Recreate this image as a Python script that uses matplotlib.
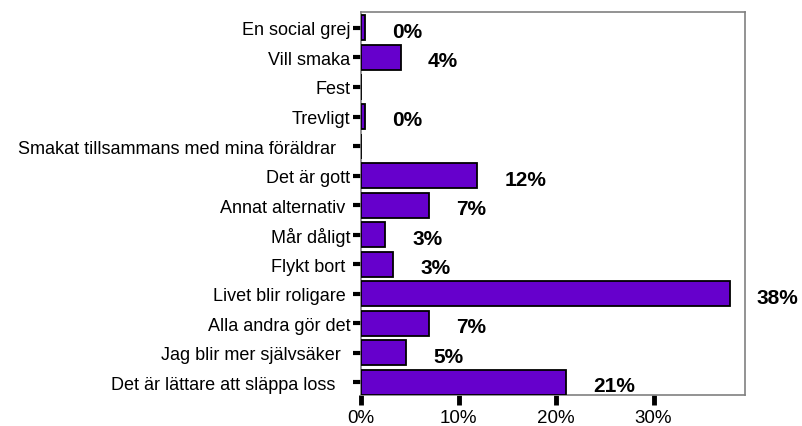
import matplotlib.pyplot as plt
import numpy as np

plt.rcParams['font.family'] = ['Liberation Sans', 'DejaVu Sans']

# categories top -> bottom, trailing spaces as in the original labels
categories = ['En social grej', 'Vill smaka', 'Fest', 'Trevligt',
              'Smakat tillsammans med mina föräldrar   ', 'Det är gott',
              'Annat alternativ ', 'Mår dåligt', 'Flykt bort ',
              'Livet blir roligare ', 'Alla andra gör det',
              'Jag blir mer självsäker  ', 'Det är lättare att släppa loss   ']
values = [0.4, 4.1, 0.0, 0.4, 0.0, 11.9, 7.0, 2.5, 3.3, 37.8, 7.0, 4.6, 21.0]
pct_labels = ['0%', '4%', '', '0%', '', '12%', '7%', '3%', '3%', '38%', '7%', '5%', '21%']
xticks = [0, 10, 20, 30]
xtick_labels = ['0%', '10%', '20%', '30%']

fig = plt.figure()
fig.set_size_inches(8.03, 4.27)
ax = fig.add_axes([0.4496, 0.0726, 0.928 - 0.4496, 0.9696 - 0.0726])

ypos = np.arange(len(categories))[::-1]
ax.barh(ypos, values, height=0.85, color='#6600CC', edgecolor='black',
        linewidth=1.3, zorder=3)

for y, v, lab in zip(ypos, values, pct_labels):
    if lab:
        ax.annotate(lab, (v, y), xytext=(19.5, -2.5), textcoords='offset points',
                    ha='left', va='center', fontsize=15, fontweight='bold')

ax.set_xlim(0, 39.4)
ax.set_ylim(-0.43, len(categories) - 1 + 0.54)
ax.set_yticks(ypos)
ax.set_yticklabels(categories, fontsize=13)
ax.set_xticks(xticks)
ax.set_xticklabels(xtick_labels, fontsize=13.5)
ax.tick_params(axis='y', length=5.5, width=3, pad=2, color='black')
ax.tick_params(axis='x', length=7, width=3.5, pad=3, color='black')

for s in ax.spines.values():
    s.set_color('#808080')
    s.set_linewidth(1.2)

fig.savefig('out.png', dpi=100)
plt.close()
